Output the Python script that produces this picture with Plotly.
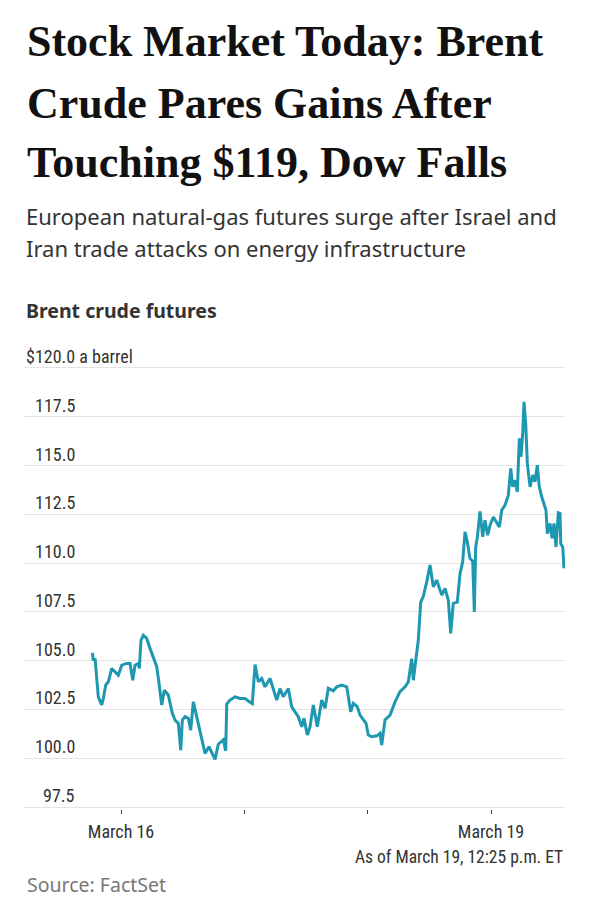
import pandas as pd
import plotly.graph_objects as go

# ---------------- data ----------------
# hours after March 16 00:00 (ET) and Brent price
hours = [-5.58, -5.39, -5.06, -4.42, -3.76, -3.44, -2.98, -2.47, -1.81, -1.17,
         -0.53, 0.14, 1.11, 1.75, 2.28, 2.72, 3.37, 3.56, 3.89, 4.34,
         5.00, 5.64, 6.29, 6.95, 7.39, 7.92, 8.43, 9.20, 9.98, 10.51,
         11.15, 11.62, 11.93, 12.45, 13.10, 13.56, 14.07, 14.73, 15.37, 15.82,
         16.35, 17.12, 17.96, 18.29, 18.93, 19.91, 20.37, 20.57, 21.21, 22.18,
         23.16, 24.13, 24.97, 25.55, 26.08, 26.72, 27.38, 28.02, 29.00, 29.64,
         30.30, 30.94, 31.58, 32.56, 33.22, 33.86, 34.50, 35.16, 35.61, 36.25,
         36.78, 37.42, 38.20, 39.06, 39.70, 40.34, 41.31, 41.97, 42.95, 43.92,
         44.70, 45.20, 45.98, 46.51, 47.15, 47.68, 48.12, 48.79, 49.76, 50.40,
         50.73, 51.37, 52.35, 53.32, 54.29, 55.27, 55.91, 56.57, 56.88, 57.41,
         57.85, 58.32, 58.83, 59.49, 60.13, 60.77, 61.43, 62.41, 63.05, 63.69,
         64.16, 64.66, 65.44, 65.97, 66.49, 66.94, 67.39, 67.91, 68.44, 68.75,
         69.02, 69.33, 69.86, 70.38, 70.83, 71.35, 71.81, 72.45, 73.11, 73.62,
         74.08, 74.73, 75.37, 75.84, 76.22, 76.67, 77.12, 77.51, 77.84, 78.17,
         78.42, 78.75, 79.07, 79.59, 80.12, 80.56, 81.01, 81.40, 81.87, 82.31,
         82.70, 82.96, 83.48, 83.87, 84.26, 84.65, 85.10, 85.43, 85.57, 85.96,
         86.21]
prices = [105.40, 105.00, 105.12, 103.15, 102.73, 103.07, 103.75, 103.92, 104.60, 104.43,
          104.26, 104.77, 104.86, 104.86, 104.00, 104.77, 104.86, 104.60, 106.05, 106.30,
          106.14, 105.63, 105.20, 104.69, 103.84, 102.73, 103.49, 103.24, 102.30, 101.96,
          101.78, 100.42, 101.96, 102.13, 102.05, 101.44, 102.89, 102.13, 101.28, 100.76,
          100.25, 100.59, 100.08, 99.94, 100.72, 100.95, 100.38, 102.78, 102.98, 103.15,
          103.06, 103.06, 102.90, 102.80, 104.80, 103.92, 104.09, 103.66, 104.09, 103.57,
          102.98, 103.57, 103.15, 103.57, 102.63, 102.38, 102.13, 101.61, 102.05, 101.19,
          101.61, 102.73, 101.61, 102.98, 102.56, 103.58, 103.45, 103.66, 103.75, 103.66,
          102.38, 102.81, 102.64, 102.21, 101.96, 101.79, 101.19, 101.10, 101.15, 101.28,
          100.68, 101.96, 102.21, 102.89, 103.41, 103.66, 103.92, 105.10, 104.00, 105.03,
          106.06, 108.00, 108.30, 109.04, 109.90, 108.79, 109.13, 108.36, 108.70, 108.10,
          106.40, 107.94, 108.00, 109.46, 110.06, 111.60, 111.09, 110.23, 110.10, 107.50,
          110.83, 111.30, 112.65, 111.35, 112.20, 111.43, 111.94, 112.36, 112.11, 111.85,
          112.71, 112.97, 113.48, 114.85, 113.91, 114.25, 113.65, 116.39, 115.45, 116.64,
          118.26, 117.16, 115.11, 113.91, 114.51, 114.17, 115.02, 113.91, 113.40, 112.97,
          112.71, 111.51, 112.03, 111.27, 112.03, 110.83, 112.58, 112.55, 111.00, 110.83,
          109.73]

y_grid = [97.5, 100.0, 102.5, 105.0, 107.5, 110.0, 112.5, 115.0, 117.5, 120.0]
y_top_label = "$120.0 a barrel"
x_tick_dates = ["2026-03-16", "2026-03-17", "2026-03-18", "2026-03-19"]
x_tick_text = ["March 16", "", "", "March 19"]
x_range = ["2026-03-15 05:07", "2026-03-19 14:24"]

title_lines = ["Stock Market Today: Brent", "Crude Pares Gains After",
               "Touching $119, Dow Falls"]
subtitle_lines = ["European natural-gas futures surge after Israel and",
                  "Iran trade attacks on energy infrastructure"]
chart_label = "Brent crude futures"
asof_text = "As of March 19, 12:25 p.m. ET"
source_text = "Source: FactSet"

# ---------------- figure ----------------
W, H = 590, 902
M_L, M_R, M_T, M_B = 24, 25, 366, 93
PLOT_H = H - M_T - M_B
PLOT_W = W - M_L - M_R


def py(p):  # pixel row -> paper y
    return (H - M_B - p) / PLOT_H


def px(p):  # pixel column -> paper x
    return (p - M_L) / PLOT_W


base = pd.Timestamp("2026-03-16 00:00")
times = [base + pd.Timedelta(hours=h) for h in hours]

NARROW = "Liberation Sans Narrow, Roboto Condensed, Roboto, sans-serif"
SANS = "Noto Sans, Open Sans, sans-serif"
SERIF = "Liberation Serif, DejaVu Serif, serif"

fig = go.Figure()
fig.add_trace(go.Scatter(x=times, y=prices, mode="lines",
                         line=dict(color="#1D98B0", width=3),
                         hoverinfo="skip", showlegend=False))

ann = []
for i, line in enumerate(title_lines):
    ann.append(dict(text="<b>" + line + "</b>", x=px(25), y=py([41, 103, 163][i]),
                    xref="paper", yref="paper",
                    xanchor="left", yanchor="middle", showarrow=False,
                    font=dict(family=SERIF, size=44, color="#111111")))
for i, line in enumerate(subtitle_lines):
    ann.append(dict(text=line, x=px(24), y=py([216, 248][i]), xref="paper", yref="paper",
                    xanchor="left", yanchor="middle", showarrow=False,
                    font=dict(family=SANS, size=22, color="#333333")))
ann.append(dict(text="<b>" + chart_label + "</b>", x=px(24), y=py(310), xref="paper", yref="paper",
                xanchor="left", yanchor="middle", showarrow=False,
                font=dict(family=SANS, size=19.5, color="#333333")))
for v in y_grid:
    if v == y_grid[-1]:
        ann.append(dict(text=y_top_label, x=0, y=v, xref="paper", yref="y",
                        xanchor="left", yanchor="bottom", yshift=-1, showarrow=False,
                        font=dict(family=NARROW, size=18, color="#333333")))
    else:
        ann.append(dict(text=f"{v:.1f}", x=px(77), y=v, xref="paper", yref="y",
                        xanchor="right", yanchor="bottom", yshift=-1, showarrow=False,
                        font=dict(family=NARROW, size=18, color="#333333")))
ann.append(dict(text=asof_text, x=1, y=py(857), xref="paper", yref="paper",
                xanchor="right", yanchor="middle", showarrow=False,
                font=dict(family=NARROW, size=17.5, color="#333333")))
ann.append(dict(text=source_text, x=px(25), y=py(884), xref="paper", yref="paper",
                xanchor="left", yanchor="middle", showarrow=False,
                font=dict(family=SANS, size=19.5, color="#777777")))

fig.update_layout(
    width=W, height=H, autosize=False,
    margin=dict(l=M_L, r=M_R, t=M_T, b=M_B, pad=0),
    paper_bgcolor="white", plot_bgcolor="white",
    annotations=ann,
    xaxis=dict(type="date", range=x_range, tickvals=x_tick_dates, ticktext=x_tick_text,
               ticks="outside", ticklen=4, tickwidth=1, tickcolor="#444444",
               showgrid=False, zeroline=False, showline=False,
               ticklabelstandoff=2,
               tickfont=dict(family=NARROW, size=18, color="#333333")),
    yaxis=dict(range=[97.4, 120.1], tickvals=y_grid, showticklabels=False,
               showgrid=True, gridcolor="#e3e3e3", gridwidth=1,
               zeroline=False, showline=False, ticks=""),
)

fig.write_html("out.html")
